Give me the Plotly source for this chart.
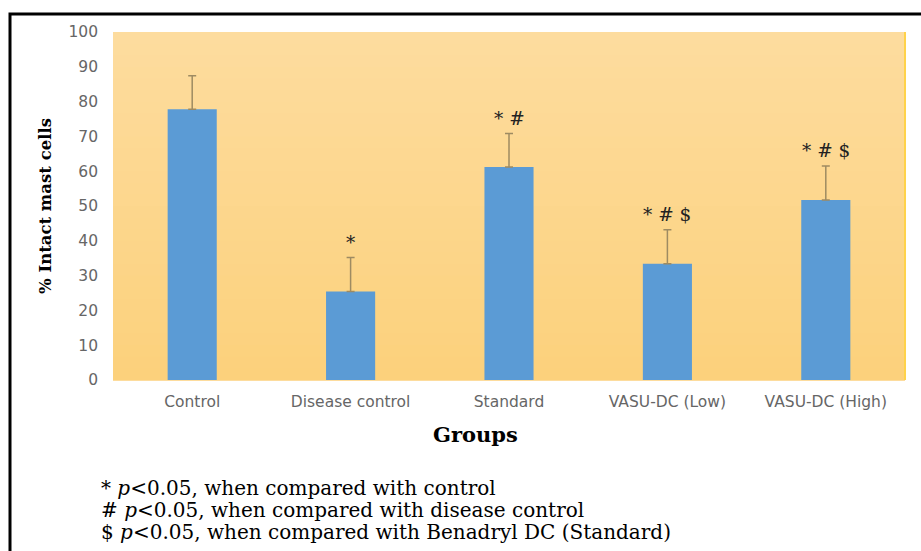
import plotly.graph_objects as go

categories = ["Control", "Disease control", "Standard", "VASU-DC (Low)", "VASU-DC (High)"]
means = [77.8, 25.4, 61.2, 33.4, 51.7]
errors = [9.6, 9.8, 9.6, 9.8, 9.8]
markers = ["", "*", "* #", "* # $", "* # $"]
y_ticks = [0, 10, 20, 30, 40, 50, 60, 70, 80, 90, 100]
footnotes = [
    "* <i>p</i><0.05, when compared with control",
    "# <i>p</i><0.05, when compared with disease control",
    "$ <i>p</i><0.05, when compared with Benadryl DC (Standard)",
]

W, H = 921, 551
L, R, T, B = 113, 16, 32, 171
pw, ph = W - L - R, H - T - B

def px_x(x):
    return (x - L) / pw

def px_y(y):
    return 1 - (y - T) / ph

fig = go.Figure()
fig.add_trace(go.Bar(
    x=categories, y=means,
    marker=dict(color="#5B9BD5", line=dict(width=0)),
    error_y=dict(type="data", array=errors, arrayminus=[0] * len(errors), symmetric=False,
                 visible=True, color="#9E8B62", thickness=1.5, width=4),
    width=0.31,
))

shapes = []
n = 30
top = (253, 220, 158)
bot = (252, 209, 124)
for i in range(n):
    f = i / (n - 1)
    c = tuple(int(round(top[k] + (bot[k] - top[k]) * f)) for k in range(3))
    shapes.append(dict(type="rect", xref="paper", yref="paper",
                       x0=0, x1=1, y0=1 - (i + 1) / n - 0.002, y1=1 - i / n,
                       fillcolor="rgb(%d,%d,%d)" % c, line=dict(width=0), layer="below"))
shapes.append(dict(type="line", xref="paper", yref="paper", x0=1, x1=1, y0=0, y1=1,
                   line=dict(color="#FFD24A", width=2)))
shapes.append(dict(type="rect", xref="paper", yref="paper",
                   x0=px_x(10), x1=px_x(930), y0=px_y(570), y1=px_y(14),
                   line=dict(color="black", width=3), fillcolor="rgba(0,0,0,0)"))

serif = "DejaVu Serif"
annotations = []
for c, m, e, s in zip(categories, means, errors, markers):
    if s:
        annotations.append(dict(x=c, y=m + e, xref="x", yref="y", text=s, showarrow=False,
                                yanchor="bottom", yshift=3,
                                font=dict(family=serif, size=18.5, color="#222")))
annotations.append(dict(x=px_x(475), y=px_y(435), xref="paper", yref="paper", text="<b>Groups</b>",
                        xanchor="center", yanchor="middle",
                        showarrow=False, font=dict(family=serif, size=21, color="black")))
annotations.append(dict(x=px_x(45), y=px_y(206), xref="paper", yref="paper",
                        text="<b>% Intact mast cells</b>", textangle=-90, showarrow=False,
                        xanchor="center", yanchor="middle",
                        font=dict(family=serif, size=16.5, color="black")))
for i, t in enumerate(footnotes):
    annotations.append(dict(x=px_x(99), y=px_y(488 + 22 * i), xref="paper", yref="paper",
                            text=t, showarrow=False, xanchor="left", yanchor="middle",
                            font=dict(family=serif, size=20, color="black")))

fig.update_layout(
    width=W, height=H,
    margin=dict(l=L, r=R, t=T, b=B, pad=0),
    paper_bgcolor="white", plot_bgcolor="rgba(0,0,0,0)",
    showlegend=False,
    shapes=shapes, annotations=annotations,
    xaxis=dict(showgrid=False, zeroline=False, showline=False, ticks="", ticklabelstandoff=10,
               tickfont=dict(family="DejaVu Sans", size=15.5, color="#666666")),
    yaxis=dict(range=[0, 100], tickvals=y_ticks, showgrid=False, zeroline=False, showline=False,
               ticks="", ticklabelstandoff=14,
               tickfont=dict(family="DejaVu Sans", size=15.5, color="#666666")),
)

fig.write_html("out.html", config={"displayModeBar": False},
               post_script="document.body.style.margin='0px';")
